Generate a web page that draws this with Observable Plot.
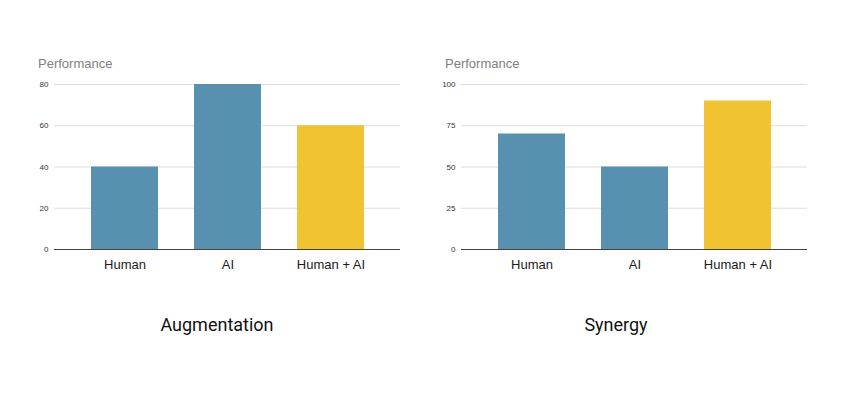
<!DOCTYPE html>
<html>
<head>
<meta charset="utf-8">
<script src="https://cdn.jsdelivr.net/npm/d3@7"></script>
<script src="https://cdn.jsdelivr.net/npm/@observablehq/plot@0.6"></script>
<style>
  html, body { margin: 0; padding: 0; background: #fff; }
  #wrap { position: relative; width: 853px; height: 394px; overflow: hidden; }
  .panel { position: absolute; top: 50px; }
  .ylab { position: absolute; top: 56px; font-family: "Liberation Sans", Arial, sans-serif; font-size: 13px; color: #808080; }
  .cap { position: absolute; top: 314px; font-family: Roboto, sans-serif; font-size: 18px; color: #111; transform: translateX(-50%); white-space: nowrap; }
  svg text { font-family: "Liberation Sans", Arial, sans-serif; }
</style>
</head>
<body>
<div id="wrap">
  <div class="ylab" style="left:38px">Performance</div>
  <div class="ylab" style="left:445px">Performance</div>
  <div class="panel" id="p1" style="left:0px"></div>
  <div class="panel" id="p2" style="left:407px"></div>
  <div class="cap" style="left:217px">Augmentation</div>
  <div class="cap" style="left:616px">Synergy</div>
</div>
<script>
const categories = ["Human", "AI", "Human + AI"];
const augmentationValues = [40, 80, 60];
const synergyValues = [70, 50, 90];
const augmentationTicks = [0, 20, 40, 60, 80];
const synergyTicks = [0, 25, 50, 75, 100];
const barColors = ["#5891af", "#5891af", "#f1c232"];

function chart(values, ticks) {
  const data = categories.map((c, i) => ({cat: c, v: values[i], color: barColors[i]}));
  const top = ticks[ticks.length - 1];
  return Plot.plot({
    width: 420,
    height: 230,
    marginLeft: 54,
    marginRight: 20,
    marginTop: 34,
    marginBottom: 31,
    x: {domain: categories, padding: 0.35, label: null},
    y: {domain: [0, top], label: null},
    marks: [
      Plot.ruleY(ticks.filter(t => t > 0), {stroke: "#dedede", strokeWidth: 1}),
      Plot.barY(data, {x: "cat", y: "v", fill: "color"}),
      Plot.ruleY([0], {stroke: "#444", strokeWidth: 1}),
      Plot.axisY({ticks: ticks, tickSize: 0, tickPadding: 6, fontSize: 8, fill: "#333", label: null}),
      Plot.axisX({tickSize: 0, tickPadding: 10, fontSize: 13, fill: "#1a1a1a", label: null})
    ]
  });
}

document.getElementById("p1").appendChild(chart(augmentationValues, augmentationTicks));
document.getElementById("p2").appendChild(chart(synergyValues, synergyTicks));
</script>
</body>
</html>
